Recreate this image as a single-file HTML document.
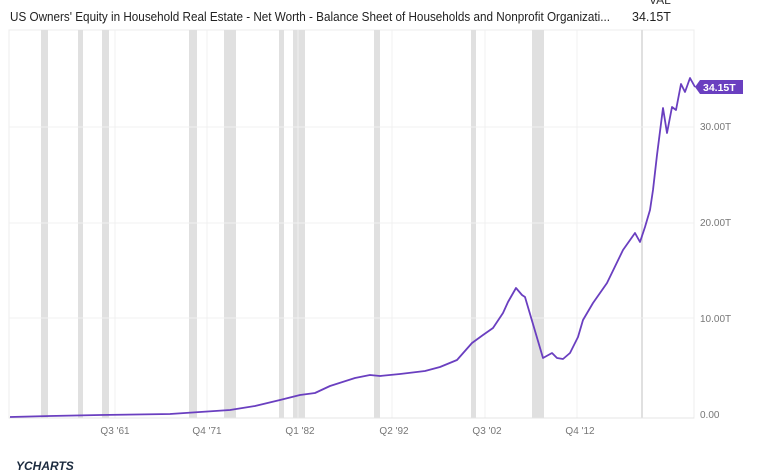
<!DOCTYPE html>
<html><head><meta charset="utf-8"><style>
html,body{margin:0;padding:0;background:#fff;width:770px;height:470px;overflow:hidden;font-family:"Liberation Sans",sans-serif;}
svg{position:absolute;left:0;top:0}
</style></head><body>
<svg width="770" height="470" viewBox="0 0 770 470" xmlns="http://www.w3.org/2000/svg" font-family="Liberation Sans, sans-serif">
<text x="10" y="21" font-size="12.5" fill="#222" textLength="600" lengthAdjust="spacingAndGlyphs">US Owners' Equity in Household Real Estate - Net Worth - Balance Sheet of Households and Nonprofit Organizati...</text>
<text x="649" y="4" font-size="12" fill="#333">VAL</text>
<text x="632" y="21" font-size="12.5" fill="#222">34.15T</text>
<rect x="9" y="30" width="685" height="388" fill="none" stroke="#ececec"/>
<g fill="#e0e0e0">
<rect x="41" y="30" width="7" height="388"/><rect x="78" y="30" width="5" height="388"/><rect x="102" y="30" width="7" height="388"/>
<rect x="189" y="30" width="8" height="388"/><rect x="224" y="30" width="12" height="388"/><rect x="279" y="30" width="5" height="388"/>
<rect x="293" y="30" width="12" height="388"/><rect x="374" y="30" width="6" height="388"/><rect x="471" y="30" width="5" height="388"/>
<rect x="532" y="30" width="12" height="388"/><rect x="641" y="30" width="2" height="388"/>
</g>
<g stroke="#f0f0f0" stroke-width="1">
<line x1="115" y1="30" x2="115" y2="418"/><line x1="207" y1="30" x2="207" y2="418"/><line x1="298" y1="30" x2="298" y2="418"/>
<line x1="392" y1="30" x2="392" y2="418"/><line x1="485" y1="30" x2="485" y2="418"/><line x1="577" y1="30" x2="577" y2="418"/>
<line x1="9" y1="127" x2="694" y2="127"/><line x1="9" y1="223" x2="694" y2="223"/><line x1="9" y1="318" x2="694" y2="318"/>
</g>
<line x1="9" y1="418" x2="694" y2="418" stroke="#e4e4e4"/>
<g font-size="10" fill="#777">
<text x="700" y="418">0.00</text><text x="700" y="322">10.00T</text><text x="700" y="226">20.00T</text><text x="700" y="130">30.00T</text>
<text x="115" y="434" text-anchor="middle">Q3 '61</text><text x="207" y="434" text-anchor="middle">Q4 '71</text>
<text x="300" y="434" text-anchor="middle">Q1 '82</text><text x="394" y="434" text-anchor="middle">Q2 '92</text>
<text x="487" y="434" text-anchor="middle">Q3 '02</text><text x="580" y="434" text-anchor="middle">Q4 '12</text>
</g>
<polyline fill="none" stroke="#6a3fc0" stroke-width="1.8" stroke-linejoin="round" points="10,417 50,416 100,415 170,414 200,412 230,410 255,406 280,400 300,395 315,393 330,386 355,378 370,375 380,376 400,374 425,371 440,367 457,360 472,343 483,335 493,328 503,313 508,302 516,288 522,295 525,297 543,358 552,353 557,358 563,359 570,353 578,337 583,320 593,303 607,283 623,250 635,233 640,242 645,227 650,210 653,190 657,155 663,108 667,133 672,107 676,110 681,84 685,92 690,78 695,87"/>
<path d="M695,87 L700,80 L743,80 L743,94 L700,94 Z" fill="#6a3fc0"/>
<text x="703" y="91" font-size="10.5" font-weight="bold" fill="#fff">34.15T</text>
<text x="16" y="470" font-size="12" font-style="italic" fill="#1c2b3f" font-weight="bold">YCHARTS</text>
</svg>
</body></html>
